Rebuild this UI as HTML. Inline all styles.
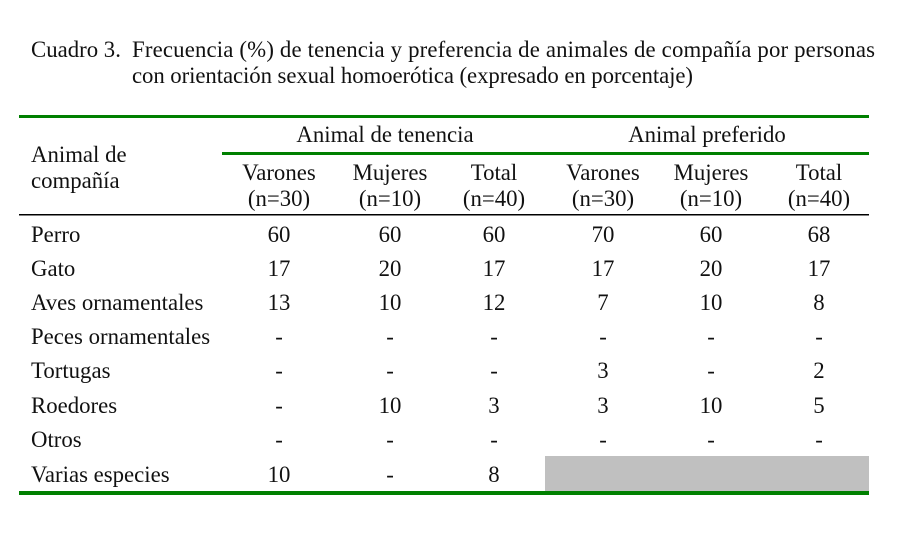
<!DOCTYPE html>
<html><head><meta charset="utf-8"><style>
html,body{margin:0;padding:0;background:#fff;}
svg{display:block;}
text{font-family:"Liberation Serif","Times New Roman",serif;font-size:22.8px;fill:#111;}
</style></head><body>
<svg width="903" height="547" viewBox="0 0 903 547">
<text x="31" y="57">Cuadro 3.</text>
<text x="132" y="57" textLength="743" lengthAdjust="spacing">Frecuencia (%) de tenencia y preferencia de animales de compañía por personas</text>
<text x="132" y="83" textLength="561" lengthAdjust="spacing">con orientación sexual homoerótica (expresado en porcentaje)</text>
<rect x="19" y="115" width="850" height="3" fill="#008000"/>
<rect x="222" y="152" width="647" height="3" fill="#008000"/>
<rect x="19" y="214" width="850" height="1.5" fill="#000"/>
<rect x="545" y="456" width="324" height="36" fill="#c0c0c0"/>
<rect x="19" y="491" width="850" height="4" fill="#008000"/>
<g text-anchor="middle">
<text x="385" y="142">Animal de tenencia</text>
<text x="707" y="142">Animal preferido</text>
<text x="279" y="180">Varones</text><text x="279" y="206">(n=30)</text>
<text x="390" y="180">Mujeres</text><text x="390" y="206">(n=10)</text>
<text x="494" y="180">Total</text><text x="494" y="206">(n=40)</text>
<text x="603" y="180">Varones</text><text x="603" y="206">(n=30)</text>
<text x="711" y="180">Mujeres</text><text x="711" y="206">(n=10)</text>
<text x="819" y="180">Total</text><text x="819" y="206">(n=40)</text>
</g>
<text x="31" y="162">Animal de</text>
<text x="31" y="188">compañía</text>
<g>
<text x="31" y="242">Perro</text>
<text x="31" y="276">Gato</text>
<text x="31" y="310">Aves ornamentales</text>
<text x="31" y="344">Peces ornamentales</text>
<text x="31" y="378">Tortugas</text>
<text x="31" y="413">Roedores</text>
<text x="31" y="447">Otros</text>
<text x="31" y="482">Varias especies</text>
</g>
<g text-anchor="middle">
<text x="279" y="242">60</text><text x="390" y="242">60</text><text x="494" y="242">60</text><text x="603" y="242">70</text><text x="711" y="242">60</text><text x="819" y="242">68</text>
<text x="279" y="276">17</text><text x="390" y="276">20</text><text x="494" y="276">17</text><text x="603" y="276">17</text><text x="711" y="276">20</text><text x="819" y="276">17</text>
<text x="279" y="310">13</text><text x="390" y="310">10</text><text x="494" y="310">12</text><text x="603" y="310">7</text><text x="711" y="310">10</text><text x="819" y="310">8</text>
<text x="279" y="344">-</text><text x="390" y="344">-</text><text x="494" y="344">-</text><text x="603" y="344">-</text><text x="711" y="344">-</text><text x="819" y="344">-</text>
<text x="279" y="378">-</text><text x="390" y="378">-</text><text x="494" y="378">-</text><text x="603" y="378">3</text><text x="711" y="378">-</text><text x="819" y="378">2</text>
<text x="279" y="413">-</text><text x="390" y="413">10</text><text x="494" y="413">3</text><text x="603" y="413">3</text><text x="711" y="413">10</text><text x="819" y="413">5</text>
<text x="279" y="447">-</text><text x="390" y="447">-</text><text x="494" y="447">-</text><text x="603" y="447">-</text><text x="711" y="447">-</text><text x="819" y="447">-</text>
<text x="279" y="482">10</text><text x="390" y="482">-</text><text x="494" y="482">8</text>
</g>
</svg>
</body></html>
